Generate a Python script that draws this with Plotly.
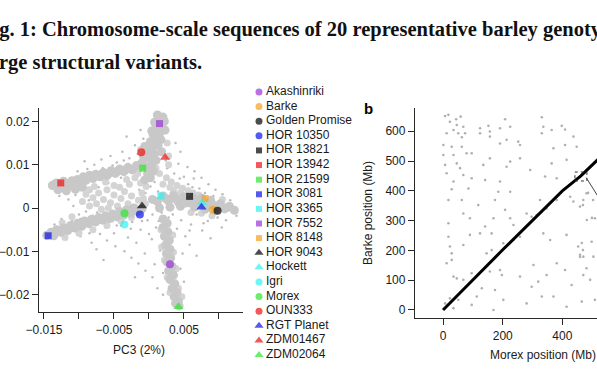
import plotly.graph_objects as go

# ---------------- data ----------------
genotypes = ["Akashinriki", "Barke", "Golden Promise", "HOR 10350", "HOR 13821",
             "HOR 13942", "HOR 21599", "HOR 3081", "HOR 3365", "HOR 7552",
             "HOR 8148", "HOR 9043", "Hockett", "Igri", "Morex", "OUN333",
             "RGT Planet", "ZDM01467", "ZDM02064"]
pc3 = [0.0030, 0.0091, 0.0098, -0.0013, 0.0058, -0.0126, -0.0009, -0.0144, 0.0017, 0.0015,
       0.0080, -0.0010, 0.0076, -0.0035, -0.0035, -0.0011, 0.0075, 0.0023, 0.0042]
pc2 = [-0.0130, -0.0004, -0.0006, -0.0015, 0.0027, 0.0058, 0.0092, -0.0064, 0.0028, 0.0195,
       0.0022, 0.0005, 0.0012, -0.0038, -0.0012, 0.0129, 0.0002, 0.0117, -0.0228]
colors = ["#9b34d6", "#f6a01a", "#000000", "#0a14e6", "#000000", "#ee1111", "#2ee62e",
          "#0a14e6", "#2ef2f2", "#9b34d6", "#f6a01a", "#000000", "#2ef2f2", "#2ef2f2",
          "#2ee62e", "#ee1111", "#0a14e6", "#ee1111", "#2ee62e"]
symbols = ["circle", "circle", "circle", "circle", "square", "square", "square", "square",
           "square", "square", "square", "triangle-up", "triangle-up", "circle", "circle",
           "circle", "triangle-up", "triangle-up", "triangle-up"]

# dense arms of the SNP-loading cloud (PC3, PC2)
cloud_core = [
    (-0.0138, 0.0052), (-0.0132, 0.0058), (-0.0128, 0.0049), (-0.0122, 0.0062), (-0.0120, 0.0050),
    (-0.0115, 0.0056), (-0.0110, 0.0063), (-0.0108, 0.0051), (-0.0102, 0.0066), (-0.0098, 0.0058),
    (-0.0094, 0.0072), (-0.0090, 0.0064), (-0.0085, 0.0076), (-0.0080, 0.0068), (-0.0076, 0.0078),
    (-0.0070, 0.0072), (-0.0065, 0.0082), (-0.0060, 0.0075), (-0.0054, 0.0086), (-0.0048, 0.0080),
    (-0.0042, 0.0090), (-0.0036, 0.0084), (-0.0030, 0.0094), (-0.0024, 0.0088), (-0.0018, 0.0098),
    (-0.0130, 0.0042), (-0.0118, 0.0040), (-0.0105, 0.0043), (-0.0095, 0.0048),
    (-0.0135, 0.0055), (-0.0125, 0.0055), (-0.0112, 0.0058), (-0.0100, 0.0062), (-0.0088, 0.0070),
    (-0.0078, 0.0073), (-0.0068, 0.0077), (-0.0057, 0.0081), (-0.0045, 0.0085), (-0.0033, 0.0089),
    (-0.0146, -0.0063), (-0.0140, -0.0056), (-0.0136, -0.0064), (-0.0132, -0.0050), (-0.0126, -0.0056),
    (-0.0122, -0.0046), (-0.0116, -0.0052), (-0.0112, -0.0040), (-0.0106, -0.0046), (-0.0102, -0.0035),
    (-0.0096, -0.0042), (-0.0092, -0.0030), (-0.0086, -0.0036), (-0.0082, -0.0026), (-0.0076, -0.0032),
    (-0.0072, -0.0022), (-0.0066, -0.0028), (-0.0062, -0.0018), (-0.0056, -0.0024), (-0.0052, -0.0014),
    (-0.0046, -0.0020), (-0.0042, -0.0008), (-0.0036, -0.0016), (-0.0032, -0.0004), (-0.0026, -0.0012),
    (-0.0022, 0.0000), (-0.0016, -0.0008), (-0.0010, -0.0002),
    (-0.0138, -0.0060), (-0.0129, -0.0053), (-0.0119, -0.0049), (-0.0109, -0.0043), (-0.0099, -0.0038),
    (-0.0089, -0.0033), (-0.0079, -0.0029), (-0.0069, -0.0025), (-0.0059, -0.0021), (-0.0049, -0.0017),
    (-0.0039, -0.0012), (-0.0029, -0.0008), (-0.0019, -0.0004),
    (-0.0006, 0.0065), (0.0002, 0.0070), (-0.0002, 0.0080), (0.0006, 0.0085), (-0.0004, 0.0095),
    (0.0004, 0.0100), (0.0010, 0.0110), (0.0000, 0.0115), (0.0008, 0.0125), (-0.0003, 0.0130),
    (0.0005, 0.0140), (0.0013, 0.0145), (0.0002, 0.0153), (0.0010, 0.0160), (0.0006, 0.0170),
    (0.0016, 0.0175), (0.0010, 0.0185), (0.0018, 0.0192), (0.0008, 0.0198), (0.0015, 0.0205),
    (0.0020, 0.0210), (0.0012, 0.0215), (0.0023, 0.0180), (-0.0008, 0.0120), (0.0018, 0.0130),
    (-0.0010, 0.0105), (0.0004, 0.0178), (0.0022, 0.0200), (0.0017, 0.0158), (-0.0006, 0.0142),
    (0.0005, 0.0020), (0.0012, 0.0015), (0.0020, 0.0028), (0.0028, 0.0016), (0.0035, 0.0029),
    (0.0042, 0.0014), (0.0050, 0.0026), (0.0056, 0.0012), (0.0063, 0.0024), (0.0070, 0.0010),
    (0.0075, 0.0023), (0.0083, 0.0006), (0.0088, 0.0018), (0.0095, 0.0003), (0.0102, 0.0010),
    (0.0108, -0.0002), (0.0115, 0.0004), (0.0122, -0.0005), (0.0095, -0.0006), (0.0080, -0.0003),
    (0.0065, 0.0002), (0.0045, 0.0004), (0.0030, 0.0002), (0.0015, 0.0000),
    (0.0024, 0.0022), (0.0039, 0.0021), (0.0053, 0.0019), (0.0067, 0.0016), (0.0079, 0.0012),
    (0.0091, 0.0008), (0.0099, 0.0005), (0.0112, 0.0001),
    (0.0020, -0.0025), (0.0026, -0.0035), (0.0020, -0.0045), (0.0027, -0.0055), (0.0022, -0.0065),
    (0.0029, -0.0075), (0.0024, -0.0085), (0.0030, -0.0095), (0.0025, -0.0105), (0.0031, -0.0115),
    (0.0026, -0.0125), (0.0033, -0.0135), (0.0028, -0.0145), (0.0035, -0.0155), (0.0030, -0.0165),
    (0.0037, -0.0175), (0.0033, -0.0185), (0.0040, -0.0195), (0.0036, -0.0205), (0.0042, -0.0215),
    (0.0043, -0.0226), (0.0038, -0.0220),
]
# medium-density region of the cloud
cloud_medium = [
    (-0.0090, 0.0032), (-0.0080, 0.0024), (-0.0072, 0.0035), (-0.0065, 0.0020), (-0.0060, 0.0042),
    (-0.0055, 0.0012), (-0.0050, 0.0030), (-0.0045, 0.0005), (-0.0040, 0.0022), (-0.0035, 0.0038),
    (-0.0030, 0.0010), (-0.0025, 0.0028), (-0.0020, 0.0002), (-0.0015, 0.0018), (-0.0010, 0.0035),
    (-0.0005, 0.0010), (-0.0075, 0.0010), (-0.0085, 0.0005), (-0.0068, -0.0003), (-0.0042, 0.0048),
    (-0.0028, 0.0055), (-0.0012, 0.0058), (-0.0020, 0.0070),
    (-0.0095, 0.0015), (-0.0085, 0.0042), (-0.0078, 0.0050), (-0.0062, 0.0060), (-0.0050, 0.0052),
    (-0.0032, 0.0066), (-0.0016, 0.0080), (-0.0004, 0.0050), (-0.0008, 0.0022), (-0.0058, 0.0000),
    (-0.0040, -0.0030), (-0.0060, -0.0040), (-0.0080, -0.0050), (-0.0100, -0.0058), (-0.0120, -0.0068),
    (-0.0025, -0.0022), (-0.0110, -0.0020), (-0.0124, -0.0034),
    (0.0015, 0.0080), (0.0025, 0.0070), (0.0032, 0.0060), (0.0040, 0.0052), (0.0048, 0.0046),
    (0.0056, 0.0040), (0.0063, 0.0035), (0.0020, 0.0055), (0.0030, 0.0048), (0.0010, 0.0092),
    (0.0071, 0.0030), (0.0045, 0.0036), (0.0035, 0.0040),
    (0.0028, 0.0120), (0.0026, 0.0150), (-0.0012, 0.0135), (-0.0014, 0.0090), (0.0028, 0.0100),
    (0.0017, -0.0050), (0.0034, -0.0062), (0.0018, -0.0090), (0.0035, -0.0102), (0.0022, -0.0120),
    (0.0039, -0.0140), (0.0026, -0.0160), (0.0042, -0.0185), (0.0030, -0.0195), (0.0047, -0.0205),
    (0.0060, -0.0010), (0.0075, -0.0012), (0.0090, -0.0018), (0.0050, 0.0008), (0.0105, 0.0020),
]
# sparse scattered loadings
cloud_sparse = [
    (-0.0115, 0.0020), (-0.0108, 0.0005), (-0.0100, -0.0015), (-0.0095, 0.0015), (-0.0090, -0.0008),
    (-0.0088, 0.0090), (-0.0080, -0.0018), (-0.0078, 0.0100), (-0.0072, 0.0048), (-0.0068, 0.0112),
    (-0.0062, -0.0045), (-0.0058, 0.0058), (-0.0055, 0.0120), (-0.0050, -0.0058), (-0.0046, 0.0105),
    (-0.0040, -0.0040), (-0.0038, 0.0130), (-0.0034, 0.0065), (-0.0030, -0.0068), (-0.0028, 0.0115),
    (-0.0024, -0.0032), (-0.0020, 0.0145), (-0.0018, -0.0080), (-0.0014, 0.0042), (-0.0012, -0.0050),
    (-0.0008, 0.0160), (-0.0006, -0.0105), (-0.0002, -0.0028), (0.0002, 0.0050), (0.0004, -0.0072),
    (0.0008, -0.0130), (0.0010, -0.0045), (0.0013, 0.0038), (0.0016, -0.0098), (0.0018, 0.0165),
    (0.0020, -0.0150), (0.0024, 0.0110), (0.0026, 0.0092), (0.0030, 0.0125), (0.0034, -0.0015),
    (0.0036, 0.0080), (0.0040, -0.0048), (0.0042, 0.0102), (0.0046, -0.0028), (0.0050, 0.0072),
    (0.0052, -0.0065), (0.0056, 0.0055), (0.0060, -0.0038), (0.0064, 0.0068), (0.0068, -0.0015),
    (0.0072, 0.0045), (0.0076, -0.0052), (0.0080, 0.0035), (0.0084, -0.0030), (0.0088, -0.0070),
    (0.0092, 0.0028), (0.0098, -0.0022), (0.0104, -0.0045), (0.0110, -0.0028), (0.0116, 0.0018),
    (-0.0070, -0.0060), (-0.0085, -0.0058), (-0.0060, -0.0075), (-0.0048, -0.0088), (-0.0035, -0.0100),
    (-0.0025, -0.0115), (-0.0015, -0.0128), (-0.0005, -0.0145), (0.0005, -0.0160), (0.0012, -0.0185),
    (-0.0125, -0.0025), (-0.0110, -0.0030), (-0.0135, -0.0038), (-0.0128, 0.0028), (-0.0102, 0.0085),
    (-0.0092, 0.0108), (-0.0032, 0.0165), (-0.0012, 0.0180), (0.0038, 0.0150), (0.0045, 0.0130),
    (0.0055, 0.0095), (0.0065, 0.0085), (0.0075, 0.0070), (0.0085, 0.0055), (0.0095, 0.0042),
    (0.0105, 0.0032), (0.0125, -0.0018), (-0.0052, -0.0030), (-0.0038, -0.0028), (-0.0065, 0.0065),
    (-0.0040, 0.0070), (-0.0022, 0.0030), (-0.0005, 0.0035), (0.0005, -0.0015), (0.0018, -0.0010),
    (0.0028, -0.0022), (-0.0098, -0.0065), (-0.0118, -0.0072), (-0.0082, -0.0080), (-0.0075, -0.0095),
    (0.0058, -0.0085), (0.0048, -0.0105), (0.0045, -0.0140), (0.0050, -0.0170), (0.0020, -0.0200),
    (-0.0020, -0.0160), (-0.0065, -0.0120), (0.0068, -0.0110),
    (-0.0105, 0.0030), (-0.0098, -0.0025), (-0.0086, 0.0018), (-0.0074, -0.0010), (-0.0066, 0.0092),
    (-0.0052, 0.0098), (-0.0046, -0.0040), (-0.0036, 0.0110), (-0.0026, -0.0048), (-0.0016, 0.0125),
    (-0.0010, -0.0030), (0.0000, -0.0060), (0.0008, 0.0060), (0.0014, -0.0030), (0.0038, 0.0030),
    (0.0044, 0.0068), (0.0058, -0.0052), (0.0062, 0.0048), (0.0078, -0.0035), (0.0086, 0.0025),
]

# panel b: Morex vs Barke alignment
morex_line = [0, 200, 400, 462, 540]
barke_line = [0, 202, 400, 450, 525]
morex_dots = [7, 18, 44, 59, 23, 46, 68, 35, 51, 74, 12, 63, 1, 29, 63, 79, 1, 35, 96, 46,
              57, 7, 12, 68, 35, 96, 18, 29, 63, 124, 157, 152, 191, 208, 225, 191, 213, 252, 258, 157,
              124, 331, 336, 331, 364, 398, 409, 437, 370, 409, 448, 364, 342, 381, 414, 292, 258, 141, 191, 213,
              225, 157, 135, 185, 225, 174, 118, 85, 68, 90, 141, 169, 208, 225, 280, 297, 314, 236, 325, 381,
              347, 426, 437, 470, 481, 459, 509, 414, 359, 336, 124, 90, 68, 163, 202, 236, 258, 18, 18, 23,
              29, 29, 12, 35, 46, 68, 96, 191, 197, 157, 130, 174, 258, 303, 347, 319, 297, 381, 409, 431,
              459, 470, 453, 481, 470, 498, 504, 493, 509, 465, 414, 370, 331, 280, 202, 169, 96, 51, 23, 7,
              35, 113, 163, 146, 469, 486, 503, 499, 482, 465, 469, 459]
barke_dots = [651, 655, 640, 649, 632, 621, 615, 604, 593, 593, 593, 580, 554, 548, 548, 526, 520, 520, 526, 492,
              476, 487, 459, 453, 431, 442, 369, 405, 369, 610, 599, 618, 610, 640, 615, 559, 571, 565, 554, 582,
              593, 647, 615, 593, 604, 618, 606, 582, 543, 554, 548, 492, 448, 442, 504, 470, 509, 436, 431, 481,
              498, 509, 487, 397, 397, 369, 352, 408, 324, 308, 280, 308, 336, 308, 324, 313, 319, 285, 369, 369,
              341, 380, 364, 369, 392, 347, 308, 252, 235, 257, 257, 252, 218, 257, 224, 235, 246, 291, 246, 213,
              190, 168, 157, 112, 106, 101, 123, 134, 117, 129, 73, 67, 112, 151, 117, 95, 78, 157, 134, 84,
              185, 179, 213, 140, 117, 229, 179, 101, 34, 28, 11, 45, 45, 22, 34, 0, 17, 34, 39, 22,
              6, 45, 201, 190, 352, 393, 369, 309, 302, 225, 201, 178]
zoom_box_morex = [442, 482]
zoom_box_barke = [433, 463]
zoom_link_morex = [480, 545]
zoom_link_barke = [444, 340]

# ---------------- layout helpers ----------------
W, H = 597, 380
def fx(p):
    return p / W
def fy(p):
    return 1 - p / H

SANS = "Liberation Sans, Arial, Helvetica, sans-serif"
SERIF = "Liberation Serif, Times New Roman, serif"
AXC = "#2a2a2a"
size_of = {"circle": 8, "square": 7, "triangle-up": 9}

fig = go.Figure()

# panel a cloud
for pts, sz, col in [(cloud_sparse, 2.5, "#bcbcbc"), (cloud_medium, 7, "#d4d4d4"), (cloud_core, 9, "#c8c8c8")]:
    fig.add_trace(go.Scatter(x=[p[0] for p in pts], y=[p[1] for p in pts], mode="markers",
                             marker=dict(size=sz, color=col, line=dict(width=0)),
                             xaxis="x", yaxis="y", hoverinfo="skip", showlegend=False))
# genotypes
fig.add_trace(go.Scatter(x=pc3, y=pc2, mode="markers",
                         marker=dict(color=colors, symbol=symbols, size=[size_of[s] for s in symbols],
                                     line=dict(width=0)),
                         text=genotypes, xaxis="x", yaxis="y", showlegend=False))

# manual legend column
rows = list(range(len(genotypes)))
fig.add_trace(go.Scatter(x=[0] * len(rows), y=rows, mode="markers",
                         marker=dict(color=colors, symbol=symbols,
                                     size=[size_of[s] - 1 for s in symbols], line=dict(width=0)),
                         xaxis="x3", yaxis="y3", cliponaxis=False, showlegend=False, hoverinfo="skip"))
fig.add_trace(go.Scatter(x=[7] * len(rows), y=rows, mode="text", text=genotypes,
                         textposition="middle right",
                         textfont=dict(family=SANS, size=12, color="#1a1a1a"),
                         xaxis="x3", yaxis="y3", cliponaxis=False, showlegend=False, hoverinfo="skip"))

# panel b
fig.add_trace(go.Scatter(x=morex_dots, y=barke_dots, mode="markers",
                         marker=dict(size=2.6, color="#b0b0b0"), xaxis="x2", yaxis="y2",
                         hoverinfo="skip", showlegend=False))
fig.add_trace(go.Scatter(x=morex_line, y=barke_line, mode="lines",
                         line=dict(color="#000000", width=3), xaxis="x2", yaxis="y2",
                         hoverinfo="skip", showlegend=False))
bx = [zoom_box_morex[0], zoom_box_morex[1], zoom_box_morex[1], zoom_box_morex[0], zoom_box_morex[0]]
by = [zoom_box_barke[0], zoom_box_barke[0], zoom_box_barke[1], zoom_box_barke[1], zoom_box_barke[0]]
fig.add_trace(go.Scatter(x=bx, y=by, mode="lines", line=dict(color="#333333", width=1, dash="dot"),
                         xaxis="x2", yaxis="y2", hoverinfo="skip", showlegend=False))
fig.add_trace(go.Scatter(x=zoom_link_morex, y=zoom_link_barke, mode="lines",
                         line=dict(color="#444444", width=1), xaxis="x2", yaxis="y2",
                         hoverinfo="skip", showlegend=False))

axis_common = dict(showline=True, linecolor=AXC, linewidth=1.3, ticks="outside", ticklen=6,
                   tickwidth=1.2, tickcolor=AXC, showgrid=False, zeroline=False, automargin=False,
                   tickfont=dict(family=SANS, size=12, color="#1a1a1a"))

fig.update_layout(
    width=W, height=H, margin=dict(l=0, r=0, t=0, b=0, pad=0), autosize=False,
    paper_bgcolor="white", plot_bgcolor="white", showlegend=False,
    xaxis=dict(domain=[fx(39), fx(243)], range=[-0.01571, 0.01343], anchor="y",
               tickvals=[-0.015, -0.01, -0.005, 0, 0.005, 0.01],
               ticktext=["\u22120.015", "", "\u22120.005", "", "0.005", ""], **axis_common),
    yaxis=dict(domain=[fy(312), fy(108)], range=[-0.0240, 0.0231], anchor="x",
               tickvals=[-0.02, -0.01, 0, 0.01, 0.02],
               ticktext=["\u22120.02", "\u22120.01", "0", "0.01", "0.02"], **axis_common),
    xaxis2=dict(domain=[fx(415), 1.0], range=[-94, 516], anchor="y2",
                tickvals=[0, 200, 400, 600], **axis_common),
    yaxis2=dict(domain=[fy(318), fy(108)], range=[-27, 678], anchor="x2",
                tickvals=[0, 100, 200, 300, 400, 500, 600], **axis_common),
    xaxis3=dict(domain=[fx(255), fx(370)], range=[-4, 111], visible=False, anchor="y3", automargin=False),
    yaxis3=dict(domain=[fy(355), fy(92)], range=[len(genotypes) - 1, 0], visible=False, anchor="x3",
                automargin=False),
)

ann = []
# title (cropped at left and right)
ann.append(dict(text="<b>Fig. 1: Chromosome-scale sequences of 20 representative barley genotypes reveal</b>",
                x=fx(-21), y=fy(29), xref="paper", yref="paper", xanchor="left", yanchor="middle",
                showarrow=False, font=dict(family=SERIF, size=20.5, color="#111")))
ann.append(dict(text="<b>large structural variants.</b>",
                x=fx(-19), y=fy(62), xref="paper", yref="paper", xanchor="left", yanchor="middle",
                showarrow=False, font=dict(family=SERIF, size=20.5, color="#111")))
ann.append(dict(text="PC3 (2%)", x=fx(139), y=fy(350), xref="paper", yref="paper",
                xanchor="center", yanchor="middle", showarrow=False,
                font=dict(family=SANS, size=12, color="#1a1a1a")))
ann.append(dict(text="Morex position (Mb)", x=fx(543), y=fy(355), xref="paper", yref="paper",
                xanchor="center", yanchor="middle", showarrow=False,
                font=dict(family=SANS, size=12, color="#1a1a1a")))
ann.append(dict(text="Barke position (Mb)", x=fx(368), y=fy(213), xref="paper", yref="paper",
                xanchor="center", yanchor="middle", textangle=-90, showarrow=False,
                font=dict(family=SANS, size=12, color="#1a1a1a")))
ann.append(dict(text="<b>b</b>", x=fx(368), y=fy(108), xref="paper", yref="paper",
                xanchor="center", yanchor="middle", showarrow=False,
                font=dict(family=SANS, size=15, color="#000")))
fig.update_layout(annotations=ann)

fig.write_html(
    "out.html",
    config={"responsive": False, "displayModeBar": False},
    default_width="597px", default_height="380px",
    post_script="document.body.style.margin='0px';document.body.style.overflow='hidden';",
)
